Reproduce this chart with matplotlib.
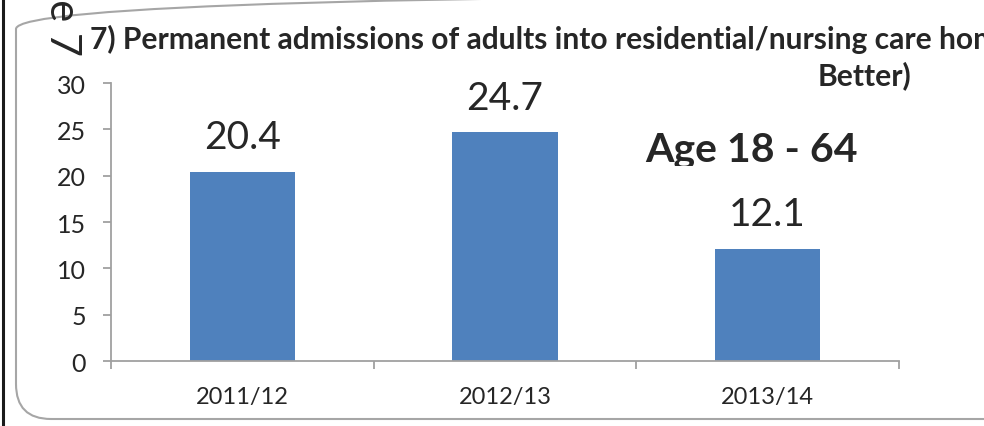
import numpy as np
import matplotlib
matplotlib.use('Agg')
import matplotlib.pyplot as plt
from matplotlib.patches import FancyBboxPatch
from matplotlib.lines import Line2D
from matplotlib.transforms import Bbox, TransformedBbox, IdentityTransform

plt.rcParams['font.family'] = ['Lato', 'DejaVu Sans']

years = ['2011/12', '2012/13', '2013/14']
admissions = [20.4, 24.7, 12.1]
value_labels = ['20.4', '24.7', '12.1']
y_ticks = [0, 5, 10, 15, 20, 25, 30]

bar_color = '#4F81BD'
text_color = '#262626'
axis_color = '#A0A0A0'

W, H = 984, 427
fig = plt.figure(figsize=(W / 100, H / 100), dpi=100)
ax = fig.add_axes([111 / W, 1 - 362 / H, (899 - 111) / W, (362 - 84) / H])

x = np.arange(len(years))
ax.bar(x, admissions, width=0.4, color=bar_color, zorder=2)

for xi, v, lab in zip(x, admissions, value_labels):
    ax.annotate(lab, (xi, v), xytext=(0, 17), textcoords='offset points',
                ha='center', va='baseline', fontsize=28, color=text_color)

ax.set_xlim(-0.5, 2.5)
ax.set_ylim(0, 30)
ax.set_yticks(y_ticks)
ax.set_xticks([-0.5, 0.5, 1.5, 2.5])
ax.set_xticklabels([])
ax.set_xticks(x, minor=True)
ax.set_xticklabels(years, minor=True)
ax.tick_params(axis='x', which='major', length=6, width=1.3, color=axis_color)
ax.tick_params(axis='x', which='minor', length=0, pad=18, labelsize=17, labelcolor=text_color)
ax.tick_params(axis='y', length=6, width=1.3, color=axis_color, pad=12,
               labelsize=18, labelcolor=text_color)
for s in ['top', 'right']:
    ax.spines[s].set_visible(False)
for s in ['left', 'bottom']:
    ax.spines[s].set_color(axis_color)
    ax.spines[s].set_linewidth(1.3)

# title, wrapped and cut off by the frame as in the original
fig.text(90 / W, 1 - 49 / H,
         '7) Permanent admissions of adults into residential/nursing care homes per 100,000 population (Lower is',
         ha='left', va='baseline', fontsize=21.6, fontweight='bold', color=text_color)
fig.text(865 / W, 1 - 85 / H, 'Better)', ha='center', va='baseline',
         fontsize=21.6, fontweight='bold', color=text_color)

age = fig.text(645 / W, 1 - 162 / H, 'Age 18 - 64', ha='left', va='baseline',
               fontsize=29.5, fontweight='bold', color=text_color)
age.set_clip_box(TransformedBbox(Bbox([[0, 1 - 167 / H], [1, 1]]), fig.transFigure))

# page number from the report, rotated
fig.text(62 / W, 1 - 56 / H, 'Page 7', rotation=-90, ha='center', va='bottom',
         fontsize=30, color=text_color)

# rounded frame and dark page edge
frame = FancyBboxPatch((16, 7), 1200, 425, boxstyle='round,pad=0,rounding_size=35',
                       transform=IdentityTransform(), fill=False,
                       edgecolor='#A6A6A6', linewidth=1.5)
fig.patches.append(frame)
fig.lines.append(Line2D([2.5 / W, 2.5 / W], [0, 1], transform=fig.transFigure,
                        color='#1A1A1A', linewidth=2.2))

fig.savefig('out.png', dpi=100)
